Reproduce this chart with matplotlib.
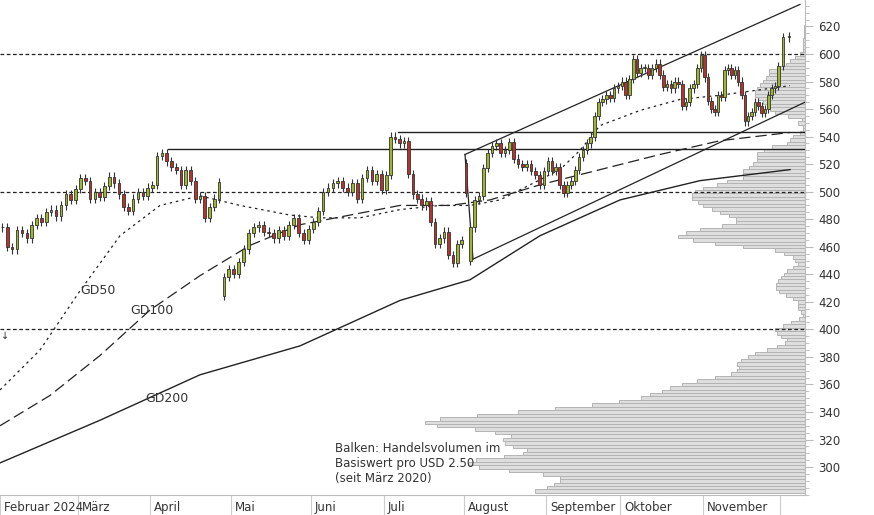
import numpy as np
import matplotlib.pyplot as plt

# months: name, start / end position on the time axis
months = ['Februar 2024', 'März', 'April', 'Mai', 'Juni', 'Juli', 'August',
          'September', 'Oktober', 'November', '']
month_bounds = [0, 78, 150, 231, 311, 384, 464, 546, 620, 703, 780, 792]

closes = [
    [474, 460, 458, 472, 470, 466, 476, 481, 478, 485, 487, 482, 490, 498, 494, 502],
    [510, 508, 495, 500, 496, 504, 511, 506, 498, 489, 486, 495, 500, 497, 503],
    [505, 526, 528, 522, 518, 516, 505, 516, 508, 495, 497, 481, 489, 495, 507, 438, 444],
    [440, 449, 458, 470, 474, 476, 471, 470, 466, 472, 468, 476, 481, 470, 465, 473],
    [478, 486, 500, 503, 506, 508, 503, 500, 506, 495, 510, 516, 508, 513, 501],
    [512, 540, 538, 535, 537, 513, 498, 495, 490, 493, 478, 462, 466, 471, 454, 448, 462, 465],
    [499, 474, 494, 497, 517, 528, 533, 535, 528, 530, 536, 524, 520, 518, 520, 515, 512, 505, 515],
    [522, 515, 518, 505, 499, 505, 508, 516, 525, 530, 535, 540, 555, 565, 567, 570, 568, 575, 577],
    [580, 570, 582, 596, 586, 590, 590, 585, 590, 593, 585, 576, 578, 575, 580, 578, 562, 565, 575, 578, 590, 599],
    [583, 566, 560, 558, 570, 569, 588, 590, 585, 588, 580, 570, 551, 555, 558, 565, 562, 557, 560, 570, 575, 577, 591],
    [612, 613],
]
# open prices where the day gapped
gap_opens = {(6, 0): 521, (6, 1): 450, (2, 15): 424}

# moving averages (time position, value)
gd50_x = [0, 40, 80, 120, 160, 200, 240, 290, 320, 360, 400, 440, 470, 500, 530, 560, 580, 600, 640, 680, 720, 760, 790]
gd50_y = [356, 385, 428, 468, 490, 497, 490, 483, 481, 481, 487, 490, 490, 494, 505, 516, 530, 548, 559, 567, 570, 574, 577]
gd100_x = [0, 50, 100, 150, 200, 250, 300, 350, 400, 450, 490, 540, 600, 660, 720, 790]
gd100_y = [330, 352, 381, 414, 439, 461, 476, 483, 490, 490, 494, 505, 516, 527, 537, 543]
gd200_x = [0, 100, 200, 300, 400, 470, 540, 620, 700, 790]
gd200_y = [303, 334, 367, 388, 421, 436, 468, 494, 508, 516]

# volume profile, widths per USD 2.50 bucket starting at 282.5
profile = [270, 258, 251, 245, 245, 262, 296, 326, 337, 329,
           301, 282, 278, 292, 300, 302, 294, 310, 330, 368,
           380, 365, 328, 287, 250, 213, 186, 164, 155, 143,
           135, 123, 108, 90, 74, 68, 66, 68, 64, 57,
           50, 38, 28, 20, 18, 24, 28, 30, 22, 14,
           6, 2, 4, 7, 7, 7, 12, 19, 26, 29,
           29, 27, 24, 21, 18,
           12, 7, 10, 12, 21, 30, 62, 90, 112, 127,
           119, 105, 83, 69, 69, 76, 85, 93, 102, 107,
           113, 113, 110, 102, 88, 78, 62, 62, 62, 56,
           52, 48, 48, 48, 41, 33, 18, 15, 12, 5,
           2, 2, 7, 3, 17, 30, 35, 38, 42, 47,
           50, 50, 48, 45, 42, 39, 36, 36, 27, 19,
           15, 10, 5, 2, 2, 2, 2, 1, 1, 1, 1]
profile_start = 282.5

fig = plt.figure(figsize=(8.74, 5.15), dpi=100)
ax = fig.add_axes([0, 20 / 515, 805 / 874, 495 / 515])
X_END = 805
ax.set_xlim(0, X_END)
ax.set_ylim(279.7, 639.2)

levels = profile_start + 2.5 * np.arange(len(profile))
ax.barh(levels, profile, left=X_END - np.array(profile), height=2.5,
        color='#dedede', edgecolor='#b4b4b4', linewidth=0.7, zorder=1)

for lvl in [400, 500, 600]:
    ax.axhline(lvl, color='#222', ls=(0, (3, 2)), lw=0.9, zorder=2)

ax.plot(gd50_x, gd50_y, color='#222', lw=0.9, ls=(0, (2, 3)), zorder=3)
ax.plot(gd100_x, gd100_y, color='#222', lw=0.9, ls=(0, (9, 4)), zorder=3)
ax.plot(gd200_x, gd200_y, color='#222', lw=1.0, zorder=3)
ax.text(80, 426, 'GD50', fontsize=9, color='#333')
ax.text(130, 411, 'GD100', fontsize=9, color='#333')
ax.text(145, 347, 'GD200', fontsize=9, color='#333')

# resistance lines and trend channel
ax.plot([168, X_END], [531, 531], color='#222', lw=1.0, zorder=3)
ax.plot([398, X_END], [543, 543], color='#222', lw=1.0, zorder=3)
ax.plot([465, 800], [527, 636], color='#222', lw=0.9, zorder=3)
ax.plot([473, 805], [451, 565], color='#222', lw=0.9, zorder=3)
ax.plot([465, 473], [527, 451], color='#222', lw=0.9, zorder=3)

# candles
prev = closes[0][0]
for m, month in enumerate(closes):
    a, b = month_bounds[m], month_bounds[m + 1]
    step = (b - a) / len(month)
    for k, c in enumerate(month):
        o = gap_opens.get((m, k), prev)
        x = a + (k + 0.5) * step
        hi, lo = max(o, c) + 3, min(o, c) - 3
        col = '#9cb82a' if c >= o else '#b8312a'
        ax.vlines(x, lo, hi, color='#333', lw=0.8, zorder=4)
        ax.bar(x, max(abs(c - o), 0.6), bottom=min(o, c), width=2.6,
               color=col, edgecolor='#333', linewidth=0.6, zorder=5)
        prev = c

ax.text(1, 393, '↓', fontsize=7, color='#333')
ax.text(335, 289, 'Balken: Handelsvolumen im\nBasiswert pro USD 2.50\n(seit März 2020)',
        fontsize=8.5, color='#333', linespacing=1.2)

# axes styling
for s in ['top', 'left']:
    ax.spines[s].set_visible(False)
ax.spines['right'].set_color('#bbb')
ax.spines['bottom'].set_color('#bbb')
ax.yaxis.tick_right()
ax.set_yticks(np.arange(300, 621, 20))
ax.set_yticks(np.arange(280, 640, 5), minor=True)
ax.tick_params(axis='y', which='major', length=6, color='#bbb', labelsize=8.5, labelcolor='#333')
ax.tick_params(axis='y', which='minor', length=3, color='#bbb')
ax.set_xticks(month_bounds[:-1])
ax.set_xticklabels([])
ax.tick_params(axis='x', length=20, color='#ccc')
for name, a in zip(months, month_bounds):
    ax.text(a + 4, -0.025, name, transform=ax.get_xaxis_transform(),
            fontsize=8.5, color='#333', va='center')

fig.savefig('out.png', dpi=100)
